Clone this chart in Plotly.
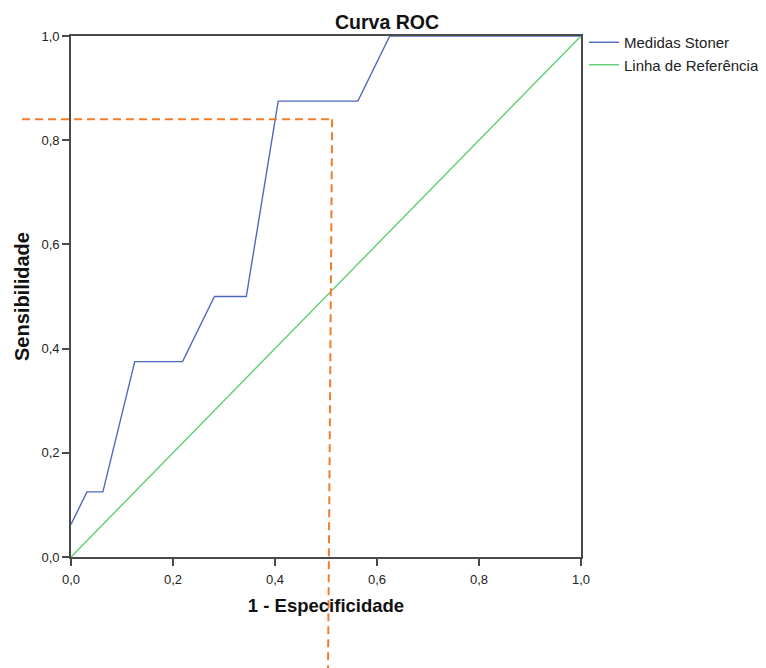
import plotly.graph_objects as go

# Data
fpr = [0.0, 0.03125, 0.0625, 0.125, 0.21875, 0.28125, 0.34375, 0.40625, 0.5625, 0.625, 1.0]
tpr = [0.0625, 0.125, 0.125, 0.375, 0.375, 0.5, 0.5, 0.875, 0.875, 1.0, 1.0]
ref_x = [0.0, 1.0]
ref_y = [0.0, 1.0]
tick_vals = [0.0, 0.2, 0.4, 0.6, 0.8, 1.0]
tick_text = ["0,0", "0,2", "0,4", "0,6", "0,8", "1,0"]
cut_x_top = 0.512
cut_x_bottom = 0.504
cut_y = 0.840

# page body has an 8px default margin; figure sized to fill the rest
OFF = 8
W, H = 766 - OFF, 668 - OFF
ML, MT = 71 - OFF, 36 - OFF
pw, ph = 510, 521
MR = W - ML - pw
MB = H - MT - ph

def px_to_paper_x(px):
    # px in window coords
    return (px - OFF - ML) / pw

def px_to_paper_y(py):
    return (MT + ph - (py - OFF)) / ph

FONT = "Liberation Sans, Arial"

fig = go.Figure()
fig.add_trace(go.Scatter(x=fpr, y=tpr, mode="lines", name="Medidas Stoner",
                         line=dict(color="#5068c0", width=1.4)))
fig.add_trace(go.Scatter(x=ref_x, y=ref_y, mode="lines", name="Linha de Referência",
                         line=dict(color="#5fcf72", width=1.4)))

orange = "#ee7d30"
fig.add_shape(type="line", xref="paper", yref="paper",
              x0=px_to_paper_x(22), x1=cut_x_top, y0=cut_y, y1=cut_y,
              line=dict(color=orange, width=2, dash="8px,5px"))
fig.add_shape(type="line", xref="paper", yref="paper",
              x0=cut_x_top, x1=cut_x_bottom, y0=cut_y, y1=px_to_paper_y(668),
              line=dict(color=orange, width=2, dash="8px,5px"))

axis_common = dict(range=[0, 1], tickvals=tick_vals, ticktext=tick_text,
                   showgrid=False, zeroline=False, showline=True, mirror=True,
                   linecolor="#4a4a4a", linewidth=1.8, ticks="outside", ticklen=7,
                   tickcolor="#4a4a4a", tickwidth=1.6, automargin=False,
                   tickfont=dict(family=FONT, size=13, color="#222222"))

fig.update_layout(
    width=W, height=H,
    margin=dict(l=ML, r=MR, t=MT, b=MB, autoexpand=False),
    paper_bgcolor="white", plot_bgcolor="white",
    title=dict(text="<b>Curva ROC</b>", x=0.5, xref="container", xanchor="center",
               y=1 - 14 / H, yref="container", yanchor="middle",
               font=dict(family=FONT, size=19.5, color="#111111")),
    xaxis=dict(**axis_common, ticklabelstandoff=2,
               title=dict(text="<b>1 - Especificidade</b>", standoff=14,
                          font=dict(family=FONT, size=18.5, color="#111111"))),
    yaxis=dict(**axis_common,
               title=dict(text="<b>Sensibilidade</b>", standoff=6,
                          font=dict(family=FONT, size=20, color="#111111"))),
    legend=dict(x=(584 - OFF) / W, y=1 - (26 - OFF) / H, xref="container", yref="container",
                xanchor="left", yanchor="top", tracegroupgap=0,
                bgcolor="rgba(0,0,0,0)",
                font=dict(family=FONT, size=15, color="#222222")),
    showlegend=True,
)

fig.write_html("out.html")
